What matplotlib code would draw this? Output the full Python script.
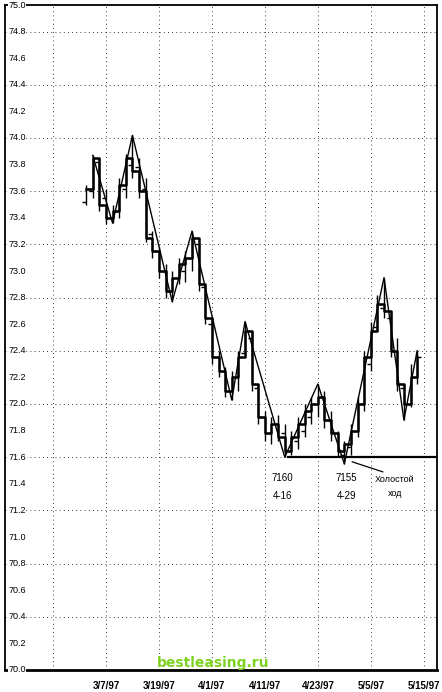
import numpy as np
import matplotlib
matplotlib.use('Agg')
import matplotlib.pyplot as plt
import matplotlib.transforms as mtransforms

plt.rcParams['font.family'] = ['Liberation Sans', 'DejaVu Sans']

# торговые дни (0 = 2/26/97), шаг сетки 8 дней
days = list(range(5, 56))
highs = [73.65, 73.87, 73.85, 73.62, 73.50, 73.70, 73.88, 74.02, 73.85, 73.70,
         73.30, 73.18, 73.05, 73.00, 73.10, 73.15, 73.30, 73.20, 72.90, 72.62,
         72.40, 72.28, 72.25, 72.40, 72.62, 72.55, 72.15, 71.95, 71.90, 71.92,
         71.85, 71.80, 71.90, 72.00, 72.05, 72.15, 72.10, 71.95, 71.80, 71.72,
         71.85, 72.05, 72.40, 72.62, 72.82, 72.95, 72.70, 72.50, 72.15, 72.30,
         72.40]
lows = [73.50, 73.55, 73.45, 73.35, 73.36, 73.40, 73.55, 73.70, 73.55, 73.22,
        73.10, 72.95, 72.80, 72.77, 72.90, 72.92, 73.00, 72.85, 72.60, 72.30,
        72.20, 72.05, 72.03, 72.10, 72.35, 72.10, 71.85, 71.72, 71.70, 71.72,
        71.60, 71.62, 71.66, 71.75, 71.85, 71.90, 71.82, 71.72, 71.60, 71.55,
        71.62, 71.75, 71.95, 72.25, 72.55, 72.65, 72.35, 72.10, 71.88, 71.98,
        72.15]
opens = [73.52, 73.60, 73.82, 73.55, 73.40, 73.45, 73.62, 73.80, 73.78, 73.62,
         73.28, 73.15, 73.00, 72.85, 72.95, 73.00, 73.10, 73.20, 72.88, 72.60,
         72.35, 72.25, 72.10, 72.20, 72.38, 72.50, 72.12, 71.90, 71.78, 71.85,
         71.78, 71.65, 71.72, 71.80, 71.90, 72.00, 72.05, 71.88, 71.78, 71.62,
         71.68, 71.80, 72.00, 72.30, 72.58, 72.72, 72.65, 72.40, 72.12, 72.00,
         72.20]
closes = [73.62, 73.85, 73.50, 73.40, 73.45, 73.65, 73.85, 73.75, 73.60, 73.25,
          73.15, 73.00, 72.85, 72.95, 73.05, 73.10, 73.25, 72.90, 72.65, 72.35,
          72.25, 72.10, 72.20, 72.35, 72.55, 72.15, 71.90, 71.78, 71.85, 71.75,
          71.65, 71.75, 71.85, 71.95, 72.00, 72.05, 71.88, 71.78, 71.65, 71.70,
          71.80, 72.00, 72.35, 72.55, 72.75, 72.70, 72.40, 72.15, 72.00, 72.20,
          72.35]

# точки разворота (дни, цены)
swing_days = [6, 9, 12, 18, 21, 27, 29, 35, 40, 44, 50, 53, 55]
swing_px = [73.87, 73.36, 74.02, 72.77, 73.30, 72.03, 72.62, 71.60, 72.15,
            71.55, 72.95, 71.88, 72.40]

tick_days = [0, 8, 16, 24, 32, 40, 48, 56]
tick_labels = ['', '3/7/97', '3/19/97', '4/1/97', '4/11/97', '4/23/97',
               '5/5/97', '5/15/97']
y_labels = np.round(np.arange(70.0, 75.01, 0.2), 1)
y_grid = np.round(np.arange(70.4, 74.81, 0.4), 1)

fig = plt.figure(figsize=(4.42, 6.92), dpi=100)
ax = fig.add_axes([5 / 442, 22 / 692, 432 / 442, 665 / 692])
ax.set_xlim(-7.25, 58)
ax.set_ylim(70.0, 75.0)

for g in y_grid:
    ax.axhline(g, color='black', lw=0.6, ls=(0, (1, 4)), zorder=1)
for d in tick_days:
    ax.axvline(d, color='black', lw=0.6, ls=(0, (1, 4)), zorder=1)

# бары
ax.vlines(days, lows, highs, color='black', lw=1.0, zorder=3)
ax.hlines(opens, np.array(days) - 0.6, days, color='black', lw=1.0, zorder=3)
ax.hlines(closes, days, np.array(days) + 0.6, color='black', lw=1.0, zorder=3)

# ступенчатая линия
ax.step(days, closes, where='post', color='black', lw=1.8, zorder=4)

# линия разворотов
ax.plot(swing_days, swing_px, color='black', lw=1.0, zorder=4)

# уровень 71.60
ax.plot([35.5, 58], [71.60, 71.60], color='black', lw=1.6, zorder=4)

ax.text(34.6, 71.44, '7160', ha='center', va='center', fontsize=7)
ax.text(34.6, 71.31, '4-16', ha='center', va='center', fontsize=7)
ax.text(44.3, 71.44, '7155', ha='center', va='center', fontsize=7)
ax.text(44.3, 71.31, '4-29', ha='center', va='center', fontsize=7)
ax.text(51.6, 71.43, 'Холостой', ha='center', va='center', fontsize=6.5)
ax.text(51.6, 71.33, 'ход', ha='center', va='center', fontsize=6.5)
ax.plot([45.2, 49.8], [71.565, 71.49], color='black', lw=0.9)

ax.set_xticks(tick_days)
ax.set_xticklabels(tick_labels, fontsize=7, fontweight='bold')
ax.tick_params(axis='x', length=0, pad=8)
ax.set_yticks([])

trans = mtransforms.blended_transform_factory(ax.transAxes, ax.transData)
for v in y_labels:
    ax.text(0.008, v, f'{v:.1f}', transform=trans, ha='left', va='center',
            fontsize=6.5, color='black', zorder=5,
            bbox=dict(facecolor='white', edgecolor='none', pad=0.3))

for s in ['left', 'top', 'right']:
    ax.spines[s].set_linewidth(1.3)
ax.spines['bottom'].set_linewidth(2.0)

fig.text(213 / 442, 1 - 663 / 692, 'bestleasing.ru', ha='center', va='center',
         fontsize=10, fontweight='bold', color='#7ed321', family='DejaVu Sans')

fig.savefig('out.png', dpi=100)
